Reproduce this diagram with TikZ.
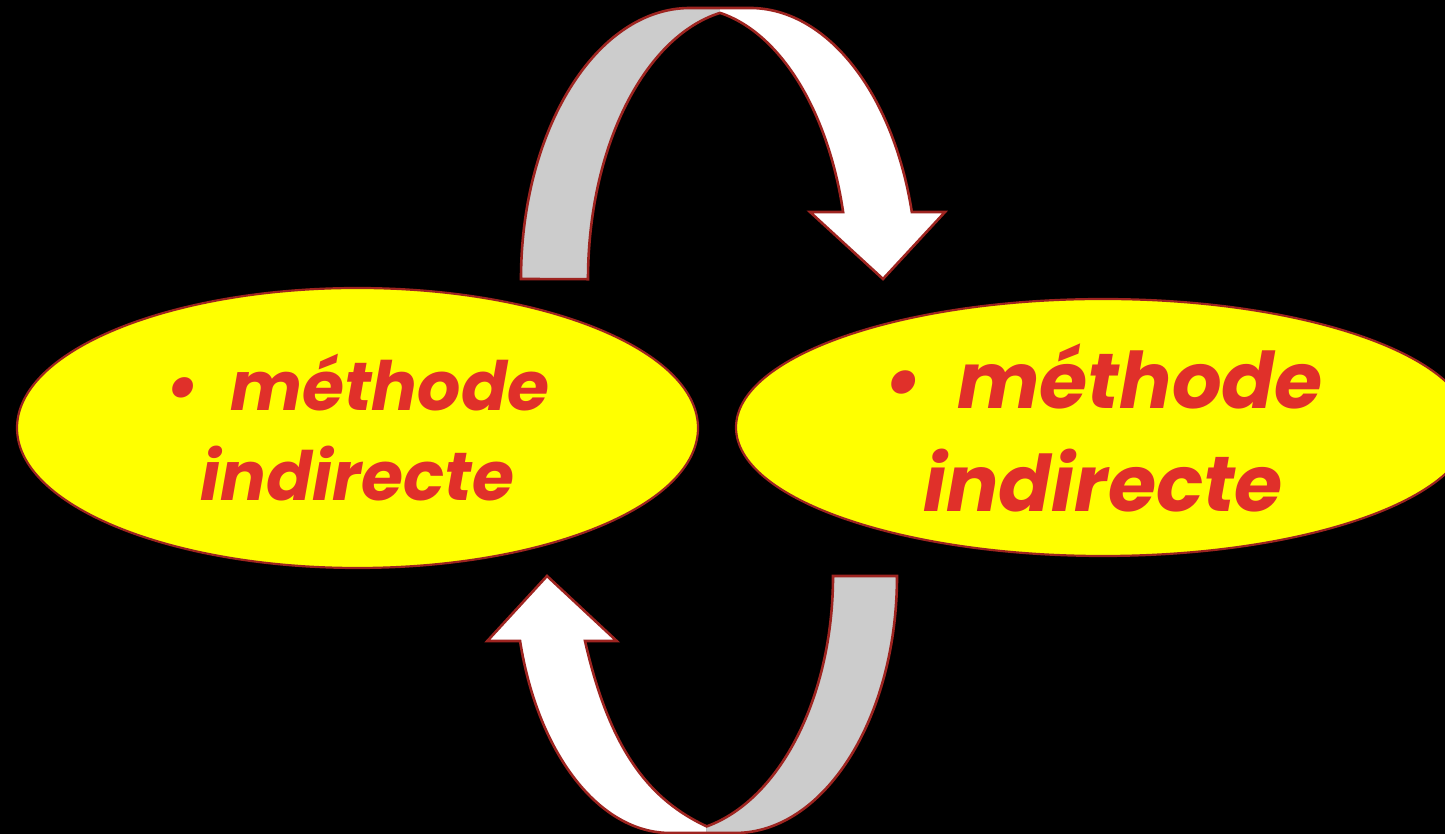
\documentclass[tikz,border=0pt]{standalone}
\usepackage{fontspec}
\setmainfont{Poppins}
\usetikzlibrary{shapes.geometric}
\definecolor{edgered}{RGB}{158,36,32}
\definecolor{txtred}{RGB}{224,48,42}
\definecolor{bandgray}{RGB}{204,204,204}
\definecolor{blobyellow}{RGB}{255,255,0}
\begin{document}
\begin{tikzpicture}[x=1pt,y=1pt,
  blob/.style={ellipse, draw=edgered, fill=blobyellow, line width=2.2pt, inner sep=0pt},
  lbl/.style={text=txtred, align=center, inner sep=0pt},
  rim/.style={draw=edgered, line width=2.6pt, line join=miter},
  backface/.style={fill=bandgray},
  frontface/.style={fill=white}]
\useasboundingbox (0,0) rectangle (1445,834);
\fill[black] (0,0) rectangle (1445,834);
\clip (0,0) rectangle (1445,834);
% ---- top curved arrow ----
\coordinate (tcusp) at (720,821.2);
\fill[backface] (521,555) arc[start angle=180,end angle=90,x radius=169,y radius=271]
  -- (720,826) -- (tcusp) arc[start angle=100.67,end angle=180,x radius=162,y radius=271] -- cycle;
\fill[frontface] (tcusp) arc[start angle=79.05,end angle=14.31,x radius=158,y radius=271]
  -- (810,622) -- (883,555) -- (945,622) -- (911.8,622)
  arc[start angle=14.31,end angle=90,x radius=167,y radius=271] -- (720,826) -- cycle;
\draw[rim] (521,555) arc[start angle=180,end angle=90,x radius=169,y radius=271]
  -- (750,826) arc[start angle=90,end angle=14.31,x radius=167,y radius=271]
  -- (945,622) -- (883,555) -- (810,622) -- (843.1,622)
  arc[start angle=14.31,end angle=79.05,x radius=158,y radius=271]
  arc[start angle=100.67,end angle=180,x radius=162,y radius=271] -- cycle;
% ---- bottom curved arrow ----
\coordinate (bcusp) at (706.7,7.6);
\fill[backface] (897,258) arc[start angle=0,end angle=-90,x radius=162,y radius=257]
  -- (706.7,1) -- (bcusp) arc[start angle=-76.99,end angle=0,x radius=163,y radius=257] -- cycle;
\fill[frontface] (706.7,1) -- (670,1) arc[start angle=-90,end angle=-165.35,x radius=155,y radius=257]
  -- (487.3,193) -- (547,258) -- (616.7,193) -- (585,193)
  .. controls (610,83) and (650,34) .. (bcusp) -- cycle;
\draw[rim] (897,258) arc[start angle=0,end angle=-90,x radius=162,y radius=257]
  -- (670,1) arc[start angle=-90,end angle=-165.35,x radius=155,y radius=257]
  -- (487.3,193) -- (547,258) -- (616.7,193) -- (585,193)
  .. controls (610,83) and (650,34) .. (bcusp)
  arc[start angle=-76.99,end angle=0,x radius=163,y radius=257] -- cycle;
% ---- ellipses ----
\node[blob, minimum width=681pt, minimum height=280pt] (L) at (357.5,406) {};
\node[blob, minimum width=734pt, minimum height=257pt] (R) at (1103,406.5) {};
\node[lbl, font=\fontsize{68}{90}\selectfont\bfseries\itshape] (Lt) at (L.center)
  {•\hspace{0.45em}méthode\\indirecte};
\node[lbl, font=\fontsize{78}{103}\selectfont\bfseries\itshape] (Rt) at (R.center)
  {•\hspace{0.45em}méthode\\indirecte};
\end{tikzpicture}
\end{document}
